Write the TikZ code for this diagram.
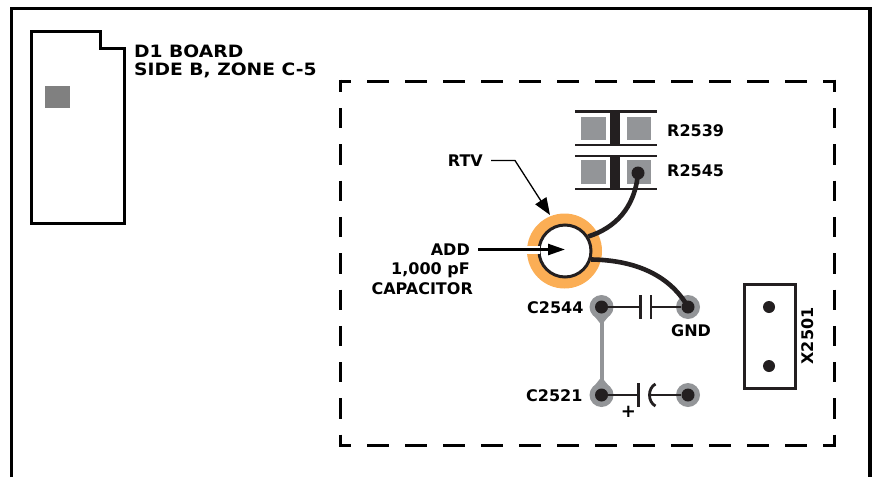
\documentclass[tikz,border=0pt]{standalone}
\usepackage{fontspec}
\setmainfont{DejaVu Sans}
\newfontfamily\widefont[FakeStretch=1.1,BoldFont={DejaVu Sans Bold},BoldFeatures={FakeStretch=1.1}]{DejaVu Sans}
\usetikzlibrary{arrows.meta}
\definecolor{ink}{HTML}{231F20}
\definecolor{padgray}{HTML}{939598}
\definecolor{ringor}{HTML}{FBAE55}
\tikzset{
  px/.style={x=1pt,y=-1pt},
  lbl/.style={font=\fontsize{16}{18}\selectfont\bfseries,inner sep=0pt,text=black},
  bigl/.style={font=\widefont\fontsize{17}{18}\selectfont\bfseries,inner sep=0pt,text=black},
  frameline/.style={line width=3.2pt,black},
  hdash/.style={line width=3pt,black,dash pattern=on 22pt off 16pt,dash phase=10pt},
  vdash/.style={line width=3pt,black,dash pattern=on 20.3pt off 16pt,dash phase=7.8pt},
  hair/.style={line width=2.2pt,ink},
  wire/.style={line width=4.6pt,ink},
  rbar/.style={line width=2.4pt,ink},
  viapad/.style={circle,fill=padgray,minimum size=24pt,inner sep=0pt},
  viadot/.style={circle,fill=ink,minimum size=13pt,inner sep=0pt},
  pindot/.style={circle,fill=ink,minimum size=12pt,inner sep=0pt},
}
\begin{document}
\begin{tikzpicture}[px]
\useasboundingbox (0,0) rectangle (875,477);
% outer frame
\coordinate (fbl) at (11.5,477);
\coordinate (ftl) at (11.5,8.5);
\coordinate (ftr) at (870,8.5);
\coordinate (fbr) at (870,477);
\draw[frameline,miter limit=10] (fbl) -- (ftl) -- (ftr) -- (fbr);
% board outline
\draw[line width=3pt,black] (31,31) -- (100,31) -- (100,48.5) -- (124,48.5) -- (124,223.5) -- (31,223.5) -- cycle;
\fill[black!50] (45,86) rectangle (70,108);
\node[bigl,anchor=base west] (t1) at (134,57) {D1 BOARD};
\node[bigl,anchor=base west] (t2) at (134,75) {SIDE B, ZONE C-5};
% dashed zoom box
\draw[hdash] (339,81) -- (836.2,81);
\draw[hdash] (339,445) -- (836.2,445);
\draw[vdash] (340.5,79.5) -- (340.5,446.5);
\draw[vdash] (834.7,79.5) -- (834.7,446.5);
% resistors
\foreach \ya/\yb/\pa/\pb in {111.5/145/117/140,156/189/160/184}{
  \draw[rbar] (575,\ya) -- (657,\ya);
  \draw[rbar] (575,\yb) -- (657,\yb);
  \fill[ink] (610,\ya) rectangle (620,\yb);
  \fill[padgray] (581,\pa) rectangle (606,\pb);
  \fill[padgray] (627,\pa) rectangle (651,\pb);
}
\node[lbl,anchor=base west] (r1) at (667,136) {R2539};
\node[lbl,anchor=base west] (r2) at (667,176) {R2545};
% ring and capacitor
\node[circle,fill=ringor,minimum size=75pt,inner sep=0pt] (ring) at (564.5,251) {};
\node[circle,fill=white,draw=ink,line width=3pt,minimum size=52pt,inner sep=0pt] (cap) at (565,251) {};
\node[viadot] (rdot) at (638,173) {};
% pads
\draw[line width=4pt,padgray] (601.5,307) -- (601.5,395);
\fill[padgray] (591,312) -- (601.5,325) -- (612,312) -- cycle;
\fill[padgray] (591,390) -- (601.5,377) -- (612,390) -- cycle;
\node[viapad] (pa) at (601.5,307) {};
\node[viapad] (pb) at (688,307) {};
\node[viapad] (pc) at (601.5,395) {};
\node[viapad] (pd) at (688,395) {};
\node[viadot] (da) at (pa) {};
\node[viadot] (db) at (pb) {};
\node[viadot] (dc) at (pc) {};
\node[viadot] (dd) at (pd) {};
% wires
\draw[wire] (rdot.center) .. controls (635,208) and (615,228) .. (cap.32);
\draw[wire] (cap.-18) .. controls (630,260) and (668,272) .. (db.center);
% capacitor symbols
\coordinate (c1a) at (640.7,307);
\coordinate (c1b) at (651,307);
\draw[hair] (da) -- (c1a);
\draw[hair] (c1b) -- (db);
\draw[line width=2.8pt,ink] (640.7,295) -- (640.7,319);
\draw[line width=2.8pt,ink] (651,295) -- (651,319);
\coordinate (c2a) at (638.3,395);
\coordinate (c2b) at (649,395);
\draw[hair] (dc) -- (c2a);
\draw[hair] (c2b) -- (dd);
\draw[line width=2.8pt,ink] (638.3,383) -- (638.3,407);
\draw[line width=2.8pt,ink] (655.5,384) .. controls (647.5,388) and (647.5,402) .. (655.5,406);
\node[font=\fontsize{18}{20}\selectfont\bfseries,inner sep=0pt] (plus) at (628.5,412) {+};
\node[lbl,anchor=base west] (lc1) at (527,313) {C2544};
\node[lbl,anchor=base west] (lc2) at (526,401) {C2521};
\node[lbl,anchor=base west] (lg) at (671,336) {GND};
% connector
\draw[line width=3pt,ink,fill=white] (744.5,284.5) rectangle (795,388);
\node[pindot] (x1) at (769,307) {};
\node[pindot] (x2) at (769,366) {};
\node[lbl,rotate=90] (lx) at (808,336) {X2501};
% callouts
\node[lbl,anchor=base east] (rtv) at (483,166) {RTV};
\coordinate (rtvs) at (491,160.5);
\coordinate (rtvk) at (515,160.5);
\coordinate (rtvt) at (550,215);
\draw[line width=1.3pt,black,-{Triangle[length=17pt,width=13pt]}] (rtvs) -- (rtvk) -- (rtvt);
\node[lbl,anchor=base east] (add1) at (470,255) {ADD};
\node[lbl,anchor=base east] (add2) at (470,274) {1,000 pF};
\node[lbl,anchor=base east] (add3) at (473,294) {CAPACITOR};
\coordinate (adds) at (478,249.5);
\coordinate (addt) at (565,249.5);
\fill[white] (527,245.5) rectangle (540,254);
\draw[line width=2.5pt,black,-{Triangle[length=17pt,width=11pt]}] (adds) -- (addt);
\end{tikzpicture}
\end{document}
